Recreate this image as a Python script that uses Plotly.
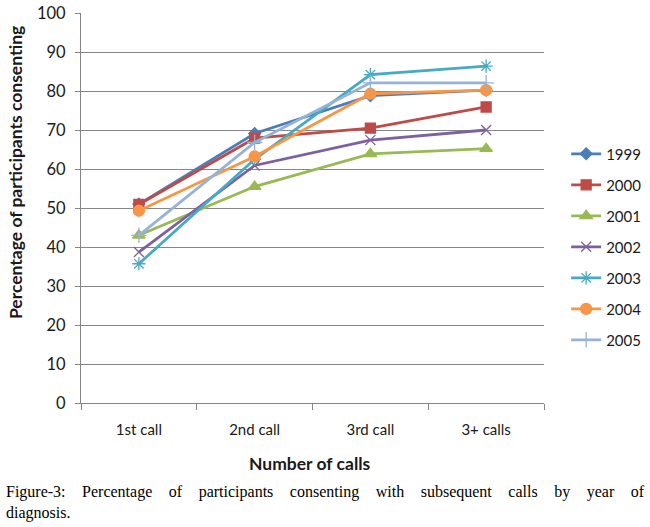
import plotly.graph_objects as go

# categories and values
calls = ["1st call", "2nd call", "3rd call", "3+ calls"]
years = ["1999", "2000", "2001", "2002", "2003", "2004", "2005"]
y1999 = [51.0, 69.1, 78.8, 80.2]
y2000 = [50.9, 67.9, 70.5, 75.9]
y2001 = [43.0, 55.5, 63.9, 65.2]
y2002 = [38.7, 60.9, 67.4, 70.0]
y2003 = [35.7, 62.5, 84.2, 86.4]
y2004 = [49.3, 63.2, 79.3, 80.2]
y2005 = [43.0, 66.8, 82.1, 82.1]
series = [y1999, y2000, y2001, y2002, y2003, y2004, y2005]

caption_1 = "Figure-3: Percentage of participants consenting with subsequent calls by year of"
caption_2 = "diagnosis."

# excel 2007 style colours and markers
colors = ["#4A7EBB", "#BE4B48", "#98B954", "#7D60A0", "#46AAC5", "#F79646", "#95B3D7"]
symbols = ["diamond", "square", "triangle-up", "x-thin-open", "asterisk-open", "circle", "cross-thin-open"]
sizes = [9, 10, 11, 10, 11, 11, 11]

fig = go.Figure()
for yr, vals, col, sym, sz in zip(years, series, colors, symbols, sizes):
    fig.add_trace(go.Scatter(x=calls, y=vals, name=yr, mode="lines+markers",
                             legendgroup=yr,
                             line=dict(color=col, width=2.8),
                             marker=dict(symbol=sym, size=sz, color=col,
                                         line=dict(color=col, width=1.3))))

# fake a justified first line: widen the word gaps
gap = " \u2002\u2009\u200a"
caption = gap.join(caption_1.split(" ")) + "<br>" + caption_2

axis_grey = "#868686"
fig.update_layout(
    width=650, height=527,
    margin=dict(l=81, r=106, t=13, b=124),
    paper_bgcolor="white", plot_bgcolor="white",
    font=dict(family="Lato", size=15, color="#1a1a1a"),
    showlegend=True,
    # container ref so the legend does not push the right margin
    legend=dict(xref="container", yref="container", x=0.871, y=0.739,
                xanchor="left", yanchor="top",
                font=dict(size=15), tracegroupgap=8.5, itemwidth=30,
                bgcolor="rgba(0,0,0,0)"),
    xaxis=dict(type="category", range=[-0.5, 3.5], showline=True, linecolor=axis_grey,
               linewidth=1, ticks="outside", tickson="boundaries", ticklen=6,
               tickcolor=axis_grey, showgrid=False, tickfont=dict(size=15),
               ticklabelstandoff=13, automargin=False),
    yaxis=dict(range=[0, 100], dtick=10, showline=True, linecolor=axis_grey,
               linewidth=1, ticks="outside", ticklen=5, tickcolor=axis_grey,
               gridcolor=axis_grey, gridwidth=1, zeroline=False,
               tickfont=dict(size=16.5), ticklabelstandoff=6, automargin=False),
    annotations=[
        dict(text="<b>Percentage of participants consenting</b>", textangle=-90,
             xref="paper", yref="paper", x=-0.14, y=0.59, xanchor="center",
             yanchor="middle", showarrow=False, font=dict(size=17.5)),
        dict(text="<b>Number of calls</b>", xref="paper", yref="paper",
             x=0.495, y=-0.155, xanchor="center", yanchor="middle",
             showarrow=False, font=dict(size=17.5)),
        dict(text=caption,
             xref="paper", yref="paper", x=-0.166, y=-0.2, xanchor="left",
             yanchor="top", align="left", showarrow=False,
             font=dict(family="Liberation Serif", size=16, color="black")),
    ],
)

fig.write_html("out.html", config={"displayModeBar": False},
               post_script="document.body.style.margin = '0';")
